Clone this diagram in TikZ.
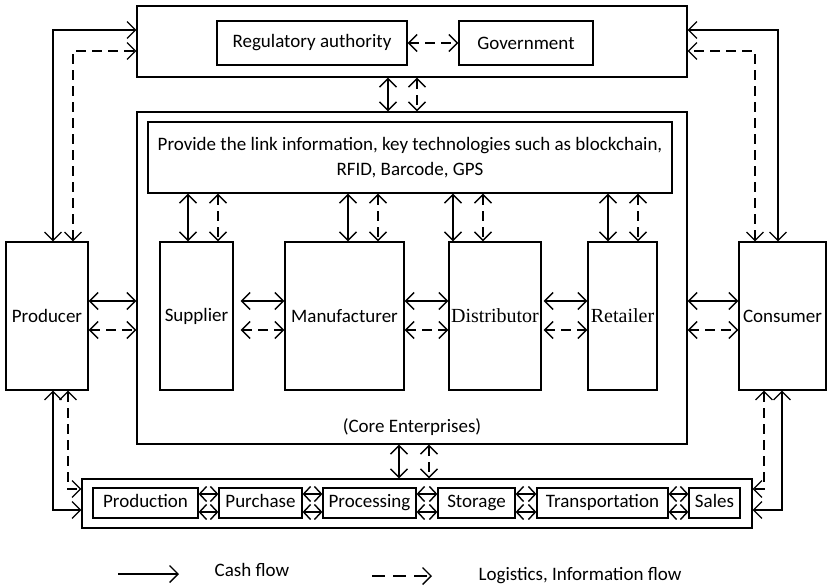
\documentclass[tikz,border=0pt]{standalone}
\usepackage{fontspec}
\setmainfont{Carlito}
\newfontfamily\serifface{Liberation Serif}
\usetikzlibrary{arrows.meta}

\begin{document}
\begin{tikzpicture}[x=1pt,y=-1pt,
  font=\fontsize{19}{25}\selectfont,
  >={Straight Barb[length=8.5pt,width=17pt]},
  box/.style={draw, line width=1.2pt, inner sep=0pt, align=center},
  stepbox/.style={box, minimum height=30pt, text height=13pt, text depth=4pt},
  serifbox/.style={box, font=\serifface\fontsize{20}{24}\selectfont},
  flow/.style={line width=1.5pt, <->},
  link/.style={line width=1.2pt, <->},
  chainflow/.style={line width=1.4pt, <->, >={Straight Barb[length=7pt,width=15pt]}},
  dsh/.style={dash pattern=on 10pt off 6pt},
  plain/.style={inner sep=0pt}]
\useasboundingbox (0,0) rectangle (827,587);

% authorities
\node[box, minimum width=550pt, minimum height=71pt] (top) at (412,41.5) {};
\node[box, minimum width=190pt, minimum height=44pt] (reg) at (312,43) {Regulatory authority};
\node[box, minimum width=134pt, minimum height=44pt] (gov) at (526,43) {Government};

% core enterprises
\node[box, minimum width=550pt, minimum height=332pt] (core) at (412,278) {};
\node[box, minimum width=524pt, minimum height=71pt] (info) at (410,157.5)
  {Provide the link information, key technologies such as blockchain,\\RFID, Barcode, GPS};
\node[box, minimum width=73pt, minimum height=148pt] (supplier) at (196.5,316) {Supplier};
\node[box, minimum width=119pt, minimum height=148pt] (manu) at (344.5,316) {Manufacturer};
\node[serifbox, minimum width=92pt, minimum height=148pt] (dist) at (495,316) {Distributor};
\node[serifbox, minimum width=69pt, minimum height=148pt] (retail) at (622.5,316) {Retailer};
\node[plain] (coretxt) at (412,427) {(Core Enterprises)};

% outer parties
\node[box, minimum width=82pt, minimum height=148pt] (producer) at (47,316) {Producer};
\node[box, minimum width=87pt, minimum height=148pt] (consumer) at (782.5,316) {Consumer};

% process chain
\node[box, minimum width=670pt, minimum height=49pt] (chain) at (417,503.5) {};
\node[stepbox, minimum width=105pt] (prod) at (145.5,503) {Production};
\node[stepbox, minimum width=83pt] (purch) at (260.5,503) {Purchase};
\node[stepbox, minimum width=93pt] (proc) at (369.5,503) {Processing};
\node[stepbox, minimum width=77pt] (stor) at (476.5,503) {Storage};
\node[stepbox, minimum width=131pt] (trans) at (602.5,503) {Transportation};
\node[stepbox, minimum width=51pt] (sales) at (714.5,503) {Sales};

% reference lines for connectors
\coordinate (ys) at (0,301);
\coordinate (yd) at (0,330);
\coordinate (yt1) at (0,30);
\coordinate (yt2) at (0,51);
\coordinate (yb1) at (0,510);
\coordinate (yb2) at (0,489);
\coordinate (yc1) at (0,494);
\coordinate (yc2) at (0,512);
\coordinate (ymid) at (0,43);

% authority links
\draw[flow, dsh] (reg.east |- ymid) -- (gov.west |- ymid);
\draw[flow] (388,0 |- top.south) -- (388,0 |- core.north);
\draw[flow, dsh] (417,0 |- top.south) -- (417,0 |- core.north);

% information platform to enterprises
\foreach \n/\xs/\xd in {supplier/188/218, manu/348/378, dist/453/483, retail/608/638}{
  \draw[flow] (\xs,0 |- info.south) -- (\xs,0 |- \n.north);
  \draw[flow, dsh] (\xd,0 |- info.south) -- (\xd,0 |- \n.north);
}

% horizontal flows between parties
\draw[flow] (producer.east |- ys) -- (core.west |- ys);
\draw[flow, dsh] (producer.east |- yd) -- (core.west |- yd);
\draw[flow, shorten <=7pt] (supplier.east |- ys) -- (manu.west |- ys);
\draw[flow, dsh, shorten <=7pt] (supplier.east |- yd) -- (manu.west |- yd);
\draw[flow] (manu.east |- ys) -- (dist.west |- ys);
\draw[flow, dsh] (manu.east |- yd) -- (dist.west |- yd);
\draw[flow, shorten <=2pt] (dist.east |- ys) -- (retail.west |- ys);
\draw[flow, dsh, shorten <=2pt] (dist.east |- yd) -- (retail.west |- yd);
\draw[flow] (core.east |- ys) -- (consumer.west |- ys);
\draw[flow, dsh] (core.east |- yd) -- (consumer.west |- yd);

% producer and consumer to authorities
\draw[link] (53,0 |- producer.north) |- (top.west |- yt1);
\draw[link, dsh] (73,0 |- producer.north) |- (top.west |- yt2);
\draw[link] (778,0 |- consumer.north) |- (top.east |- yt1);
\draw[link, dsh] (755,0 |- consumer.north) |- (top.east |- yt2);

% producer and consumer to process chain
\draw[link] (53,0 |- producer.south) |- (chain.west |- yb1);
\draw[link, dsh] (68,0 |- producer.south) |- (chain.west |- yb2);
\draw[link] (782,0 |- consumer.south) |- (chain.east |- yb1);
\draw[link, dsh] (764,0 |- consumer.south) |- (chain.east |- yb2);

% core to process chain
\draw[flow] (399,0 |- core.south) -- (399,0 |- chain.north);
\draw[flow, dsh] (429,0 |- core.south) -- (429,0 |- chain.north);

% steps of the process chain
\foreach \a/\b in {prod/purch, purch/proc, proc/stor, stor/trans, trans/sales}{
  \draw[chainflow] (\a.east |- yc1) -- (\b.west |- yc1);
  \draw[chainflow] (\a.east |- yc2) -- (\b.west |- yc2);
}

% legend
\coordinate (l1a) at (118,574);
\coordinate (l1b) at (179,574);
\coordinate (l2a) at (372,576);
\coordinate (l2b) at (432,576);
\draw[line width=1.4pt, ->] (l1a) -- (l1b);
\draw[line width=1.4pt, ->, dash pattern=on 13pt off 8pt] (l2a) -- (l2b);
\node[plain] (cash) at (252,570) {Cash flow};
\node[plain] (logi) at (580,576) {Logistics, Information flow};
\end{tikzpicture}
\end{document}
